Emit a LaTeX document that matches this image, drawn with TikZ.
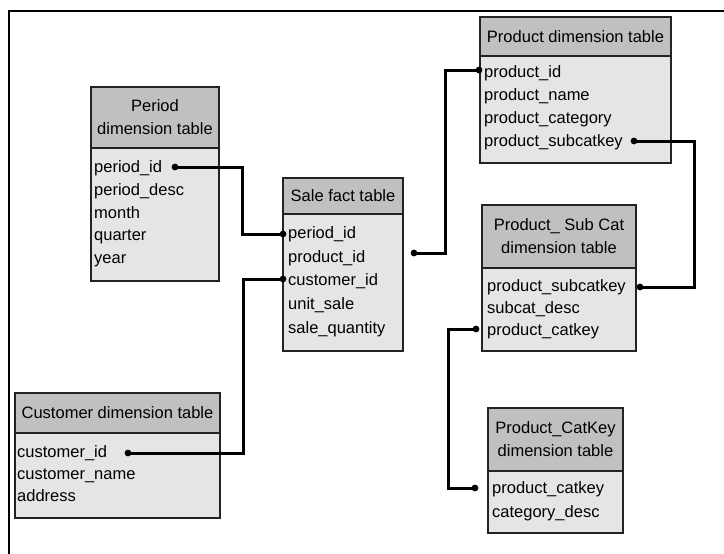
\documentclass[tikz,border=0pt]{standalone}
\usepackage{fontspec}
\setmainfont{Liberation Sans}
\usetikzlibrary{calc}
\definecolor{hdrgray}{RGB}{192,192,192}
\definecolor{bodygray}{RGB}{229,229,229}
\definecolor{edgegray}{RGB}{35,35,35}
\begin{document}
\begin{tikzpicture}[x=1pt,y=-1pt,
  font=\fontsize{16.5}{23}\selectfont,
  tblhead/.style={draw=edgegray, line width=2pt, fill=hdrgray, anchor=north west, inner sep=0pt, align=center},
  tblbody/.style={draw=edgegray, line width=2pt, fill=bodygray, anchor=north west, inner sep=0pt},
  field/.style={anchor=base west, inner sep=0pt},
  link/.style={line width=3pt, line join=miter},
  knob/.style={fill=black}]
\useasboundingbox (0,0) rectangle (724,554);
\fill[white] (0,0) rectangle (724,554);
% outer frame
\draw[line width=2.4pt] (9,554) -- (9,11) -- (724,11);

% Period dimension table
\node[tblbody, minimum width=128pt, minimum height=133pt] (perB) at (90,147) {};
\node[tblhead, minimum width=128pt, minimum height=61pt] (perH) at (90,86) {Period\\dimension table};
\node[field] (per1) at (94,172) {period\_id};
\node[field] (per2) at (94,195) {period\_desc};
\node[field] (per3) at (94,218) {month};
\node[field] (per4) at (94,240) {quarter};
\node[field] (per5) at (94,263) {year};

% Sale fact table
\node[tblbody, minimum width=120pt, minimum height=137pt] (saleB) at (282,213) {};
\node[tblhead, minimum width=120pt, minimum height=36pt] (saleH) at (282,177) {Sale fact table};
\node[field] (sale1) at (288,238) {period\_id};
\node[field] (sale2) at (288,262) {product\_id};
\node[field] (sale3) at (288,285) {customer\_id};
\node[field] (sale4) at (288,309) {unit\_sale};
\node[field] (sale5) at (288,333) {sale\_quantity};

% Product dimension table
\node[tblbody, minimum width=191pt, minimum height=107pt] (prodB) at (479,55) {};
\node[tblhead, minimum width=191pt, minimum height=39pt] (prodH) at (479,16) {Product dimension table};
\node[field] (prod1) at (484,77) {product\_id};
\node[field] (prod2) at (484,100) {product\_name};
\node[field] (prod3) at (484,123) {product\_category};
\node[field] (prod4) at (484,146) {product\_subcatkey};

% Product_SubCat dimension table
\node[tblbody, minimum width=154pt, minimum height=83pt] (subB) at (481,267) {};
\node[tblhead, minimum width=154pt, minimum height=63pt] (subH) at (481,204) {Product\_ Sub Cat\\dimension table};
\node[field] (sub1) at (487,291) {product\_subcatkey};
\node[field] (sub2) at (487,313) {subcat\_desc};
\node[field] (sub3) at (487,335) {product\_catkey};

% Product_CatKey dimension table
\node[tblbody, minimum width=135pt, minimum height=62pt] (catB) at (487,470) {};
\node[tblhead, minimum width=135pt, minimum height=63pt] (catH) at (487,407) {Product\_CatKey\\dimension table};
\node[field] (cat1) at (492,493) {product\_catkey};
\node[field] (cat2) at (492,517) {category\_desc};

% Customer dimension table
\node[tblbody, minimum width=205pt, minimum height=85pt] (custB) at (14,432) {};
\node[tblhead, minimum width=205pt, minimum height=40pt] (custH) at (14,392) {Customer dimension table};
\node[field] (cust1) at (17,457) {customer\_id};
\node[field] (cust2) at (17,479) {customer\_name};
\node[field] (cust3) at (17,501) {address};

% key ends
\coordinate (dPer) at (175,167);
\coordinate (dSalePer) at (283,234);
\coordinate (dCust) at (128,453);
\coordinate (dSaleCust) at (283,279);
\coordinate (dSale) at (414,253);
\coordinate (dProd) at (479,70);
\coordinate (dProdSub) at (634,141);
\coordinate (dSubKey) at (640,287);
\coordinate (dSubCat) at (476,329);
\coordinate (dCatKey) at (475,488);

% relationships
\draw[link] (dPer) -- ++(67,0) |- (dSalePer);
\draw[link] (dCust) -- ++(115,0) |- (dSaleCust);
\draw[link] (dSale) -- ++(31,0) |- (dProd);
\draw[link] (dProdSub) -- ++(60,0) |- (dSubKey);
\draw[link] (dSubCat) -- ++(-28,0) |- (dCatKey);

\foreach \k in {dPer,dSalePer,dCust,dSaleCust,dSale,dProd,dProdSub,dSubKey,dSubCat,dCatKey}
  \fill[knob] (\k) circle (3.4pt);
\end{tikzpicture}
\end{document}
